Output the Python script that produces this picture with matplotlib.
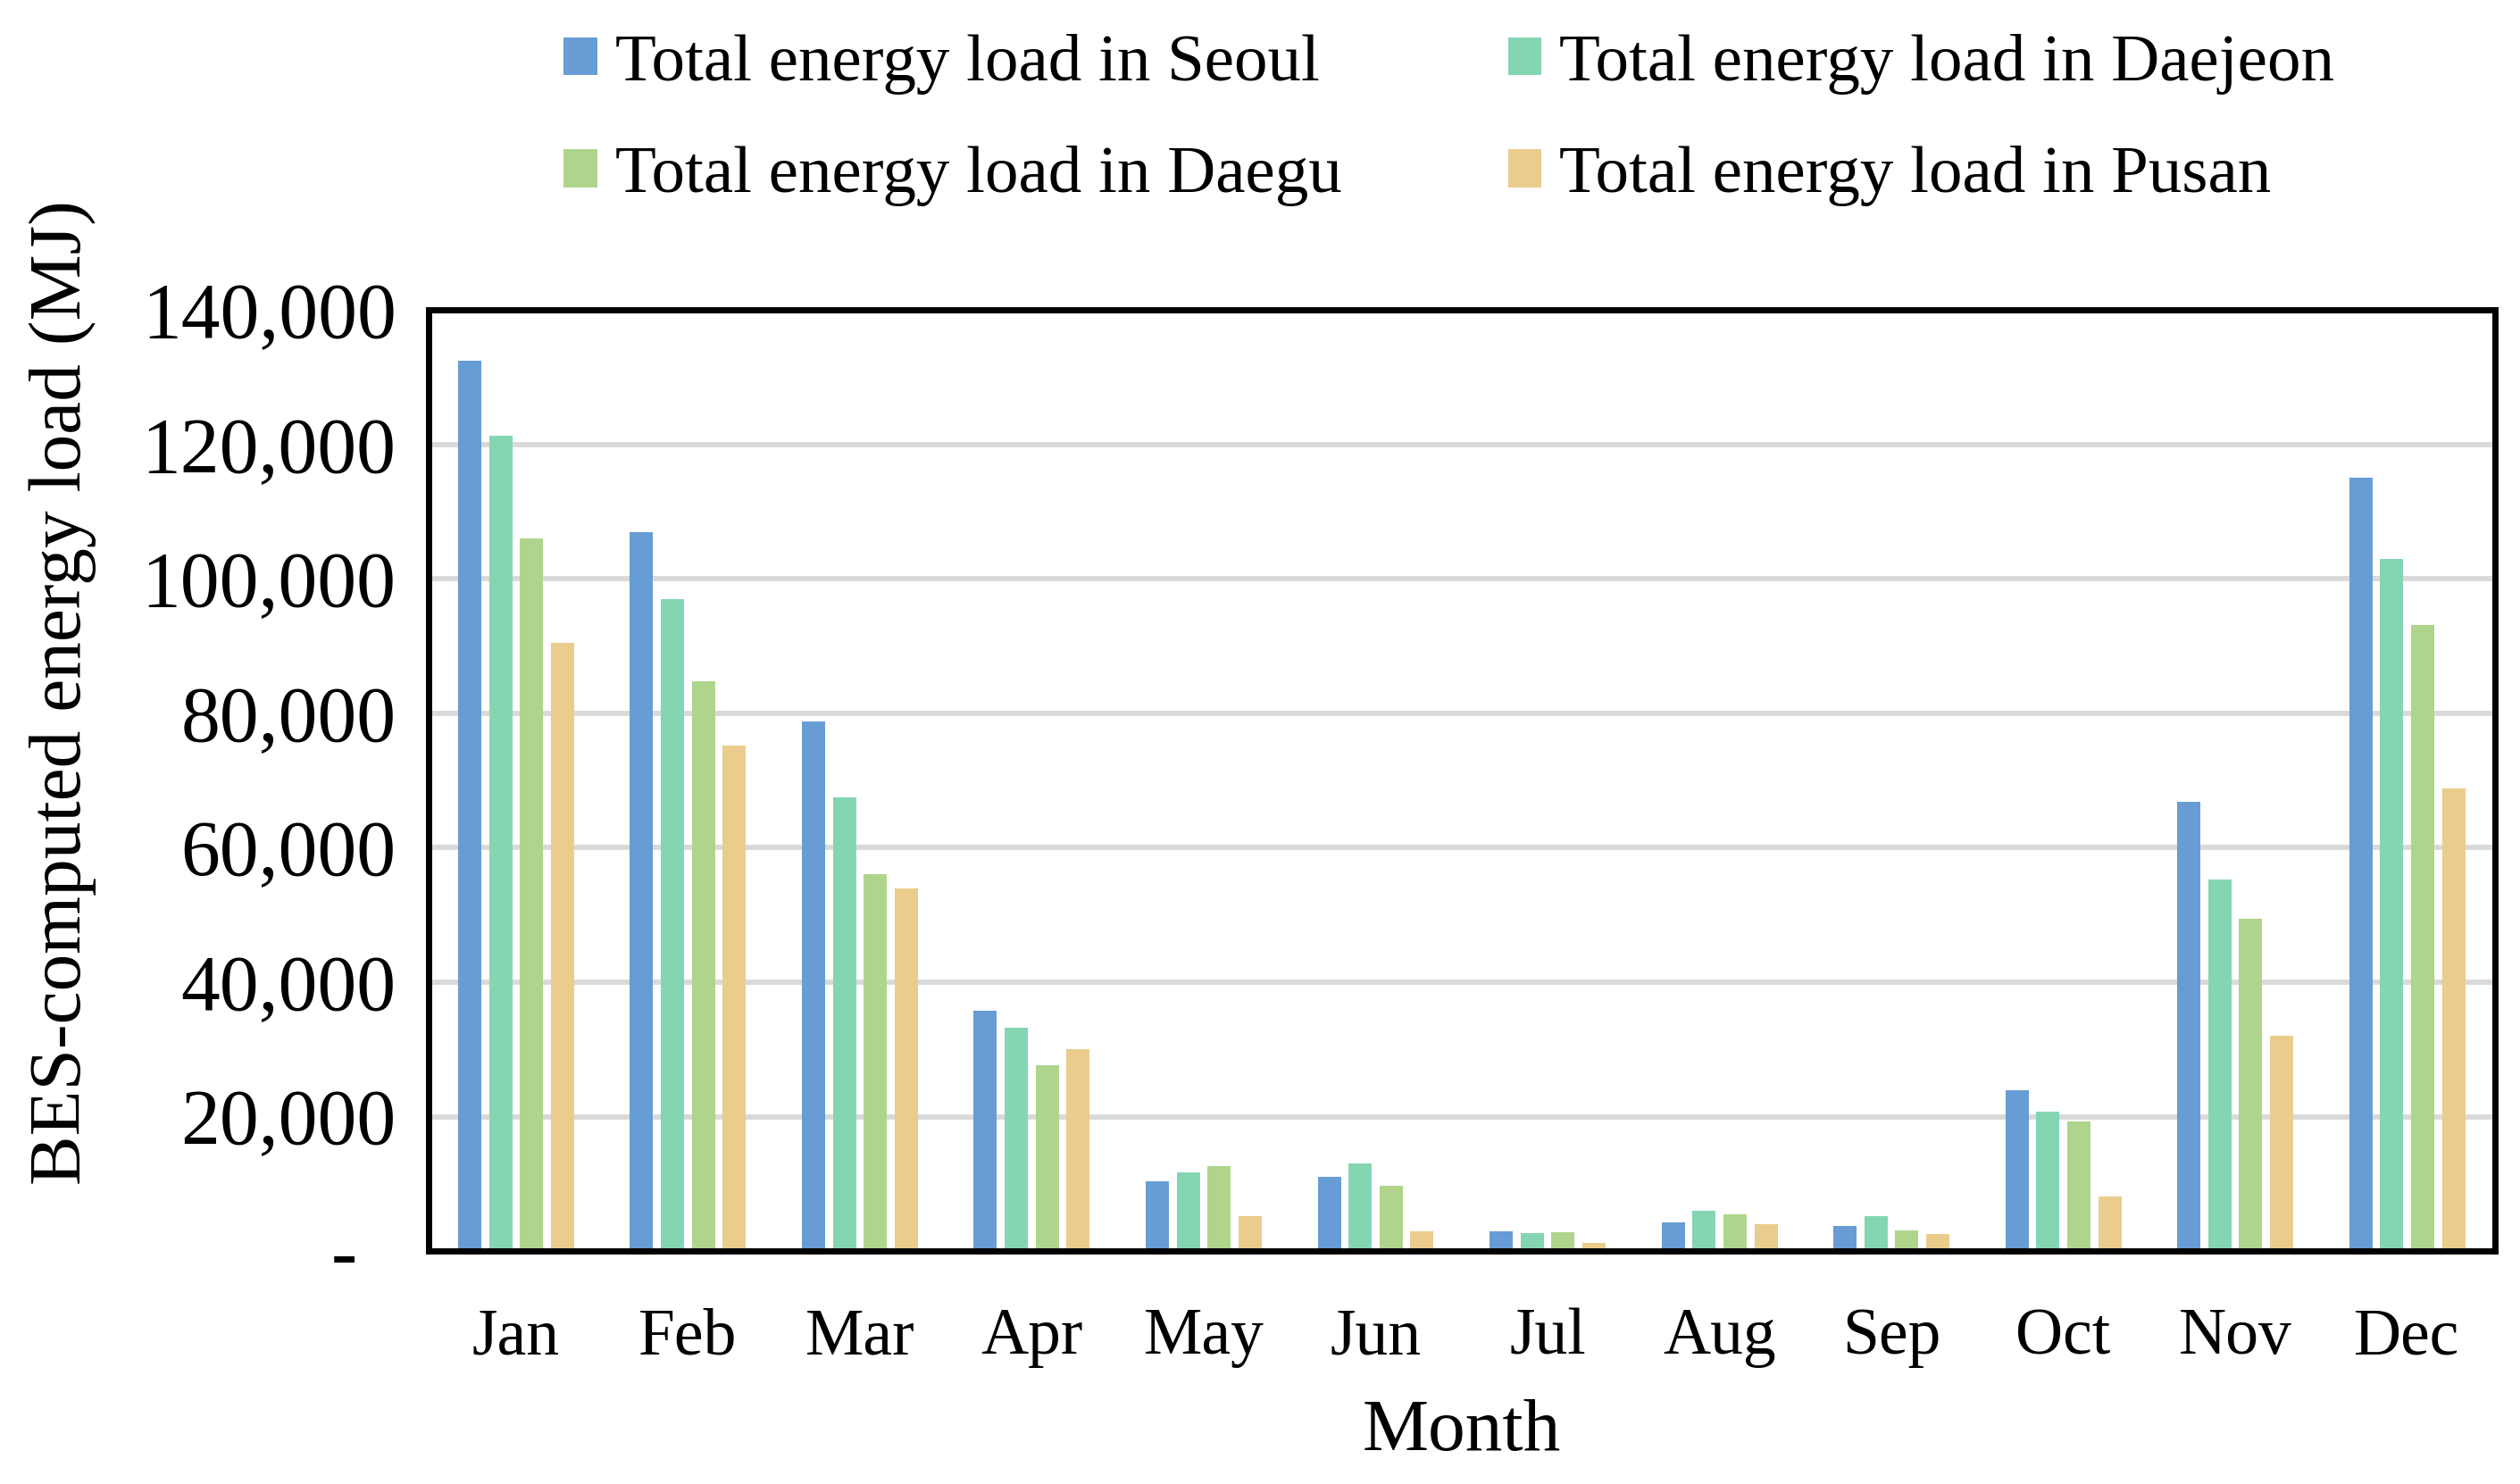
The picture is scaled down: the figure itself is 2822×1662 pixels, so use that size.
"""
Monthly BES-computed energy load for four Korean cities - grouped bar chart.
"""
import numpy as np
import matplotlib
matplotlib.use("Agg")
import matplotlib.pyplot as plt
from matplotlib.ticker import FuncFormatter

# data (MJ)
months = ["Jan", "Feb", "Mar", "Apr", "May", "Jun",
          "Jul", "Aug", "Sep", "Oct", "Nov", "Dec"]
seoul = [132500, 107000, 78800, 35700, 10400, 11000,
         2900, 4200, 3700, 23900, 66800, 115100]
daejeon = [121300, 97000, 67500, 33200, 11700, 13000,
           2600, 6000, 5200, 20800, 55300, 103000]
daegu = [106100, 84800, 56100, 27600, 12600, 9700,
         2800, 5500, 3000, 19300, 49500, 93100]
pusan = [90500, 75200, 53900, 30100, 5200, 2900,
         1200, 4000, 2500, 8100, 32000, 68800]
series_labels = ["Total energy load in Seoul", "Total energy load in Daejeon",
                 "Total energy load in Daegu", "Total energy load in Pusan"]
y_ticks = [0, 20000, 40000, 60000, 80000, 100000, 120000, 140000]

colors = ["#689CD4", "#84D6B3", "#AED58B", "#EACC8C"]

plt.rcParams["font.family"] = ["Liberation Serif", "DejaVu Serif"]

fig = plt.figure(figsize=(28.22, 16.62), dpi=100)
ax = fig.add_axes([0.170, 0.157, 0.820, 0.634])

x = np.arange(len(months))
step = 0.18
width = 0.135
all_series = [seoul, daejeon, daegu, pusan]
bars = []
for i, (vals, lab, col) in enumerate(zip(all_series, series_labels, colors)):
    b = ax.bar(x + (i - 1.5) * step, vals, width=width, color=col, label=lab,
               zorder=3)
    bars.append(b)

ax.set_xlim(-0.51, 11.51)
ax.set_ylim(0, 140000)
ax.set_yticks(y_ticks)
ax.yaxis.set_major_formatter(
    FuncFormatter(lambda v, p: "-  " if v == 0 else f"{v:,.0f}"))
ax.set_xticks(x)
ax.set_xticklabels(months)

ax.tick_params(axis="y", length=0, pad=26, labelsize=63)
ax.tick_params(axis="x", length=0, pad=46, labelsize=53)

# gridlines, skip the one at 0 and the top spine
for yv in y_ticks[1:-1]:
    ax.axhline(yv, color="#D9D9D9", linewidth=4.2, zorder=1)

for s in ax.spines.values():
    s.set_linewidth(5)
    s.set_color("black")
    s.set_zorder(4)

ax.set_xlabel("Month", fontsize=60)
ax.xaxis.set_label_coords(0.5, -0.193)
ax.xaxis.label.set_va("center")
ax.set_ylabel("BES-computed energy load (MJ)", fontsize=60)
ax.yaxis.set_label_coords(-0.177, 0.594)
ax.yaxis.label.set_va("center")

# legend filled row by row: Seoul, Daejeon / Daegu, Pusan
order = [0, 2, 1, 3]
fig.legend([bars[i] for i in order], [series_labels[i] for i in order],
           loc="upper center", bbox_to_anchor=(0.575, 1.0), ncol=2,
           frameon=False, fontsize=54, handlelength=0.5, handleheight=0.5,
           handletextpad=0.27, columnspacing=2.48, labelspacing=0.77,
           borderaxespad=0.1)

plt.savefig("out.png", dpi=100)
plt.close()
